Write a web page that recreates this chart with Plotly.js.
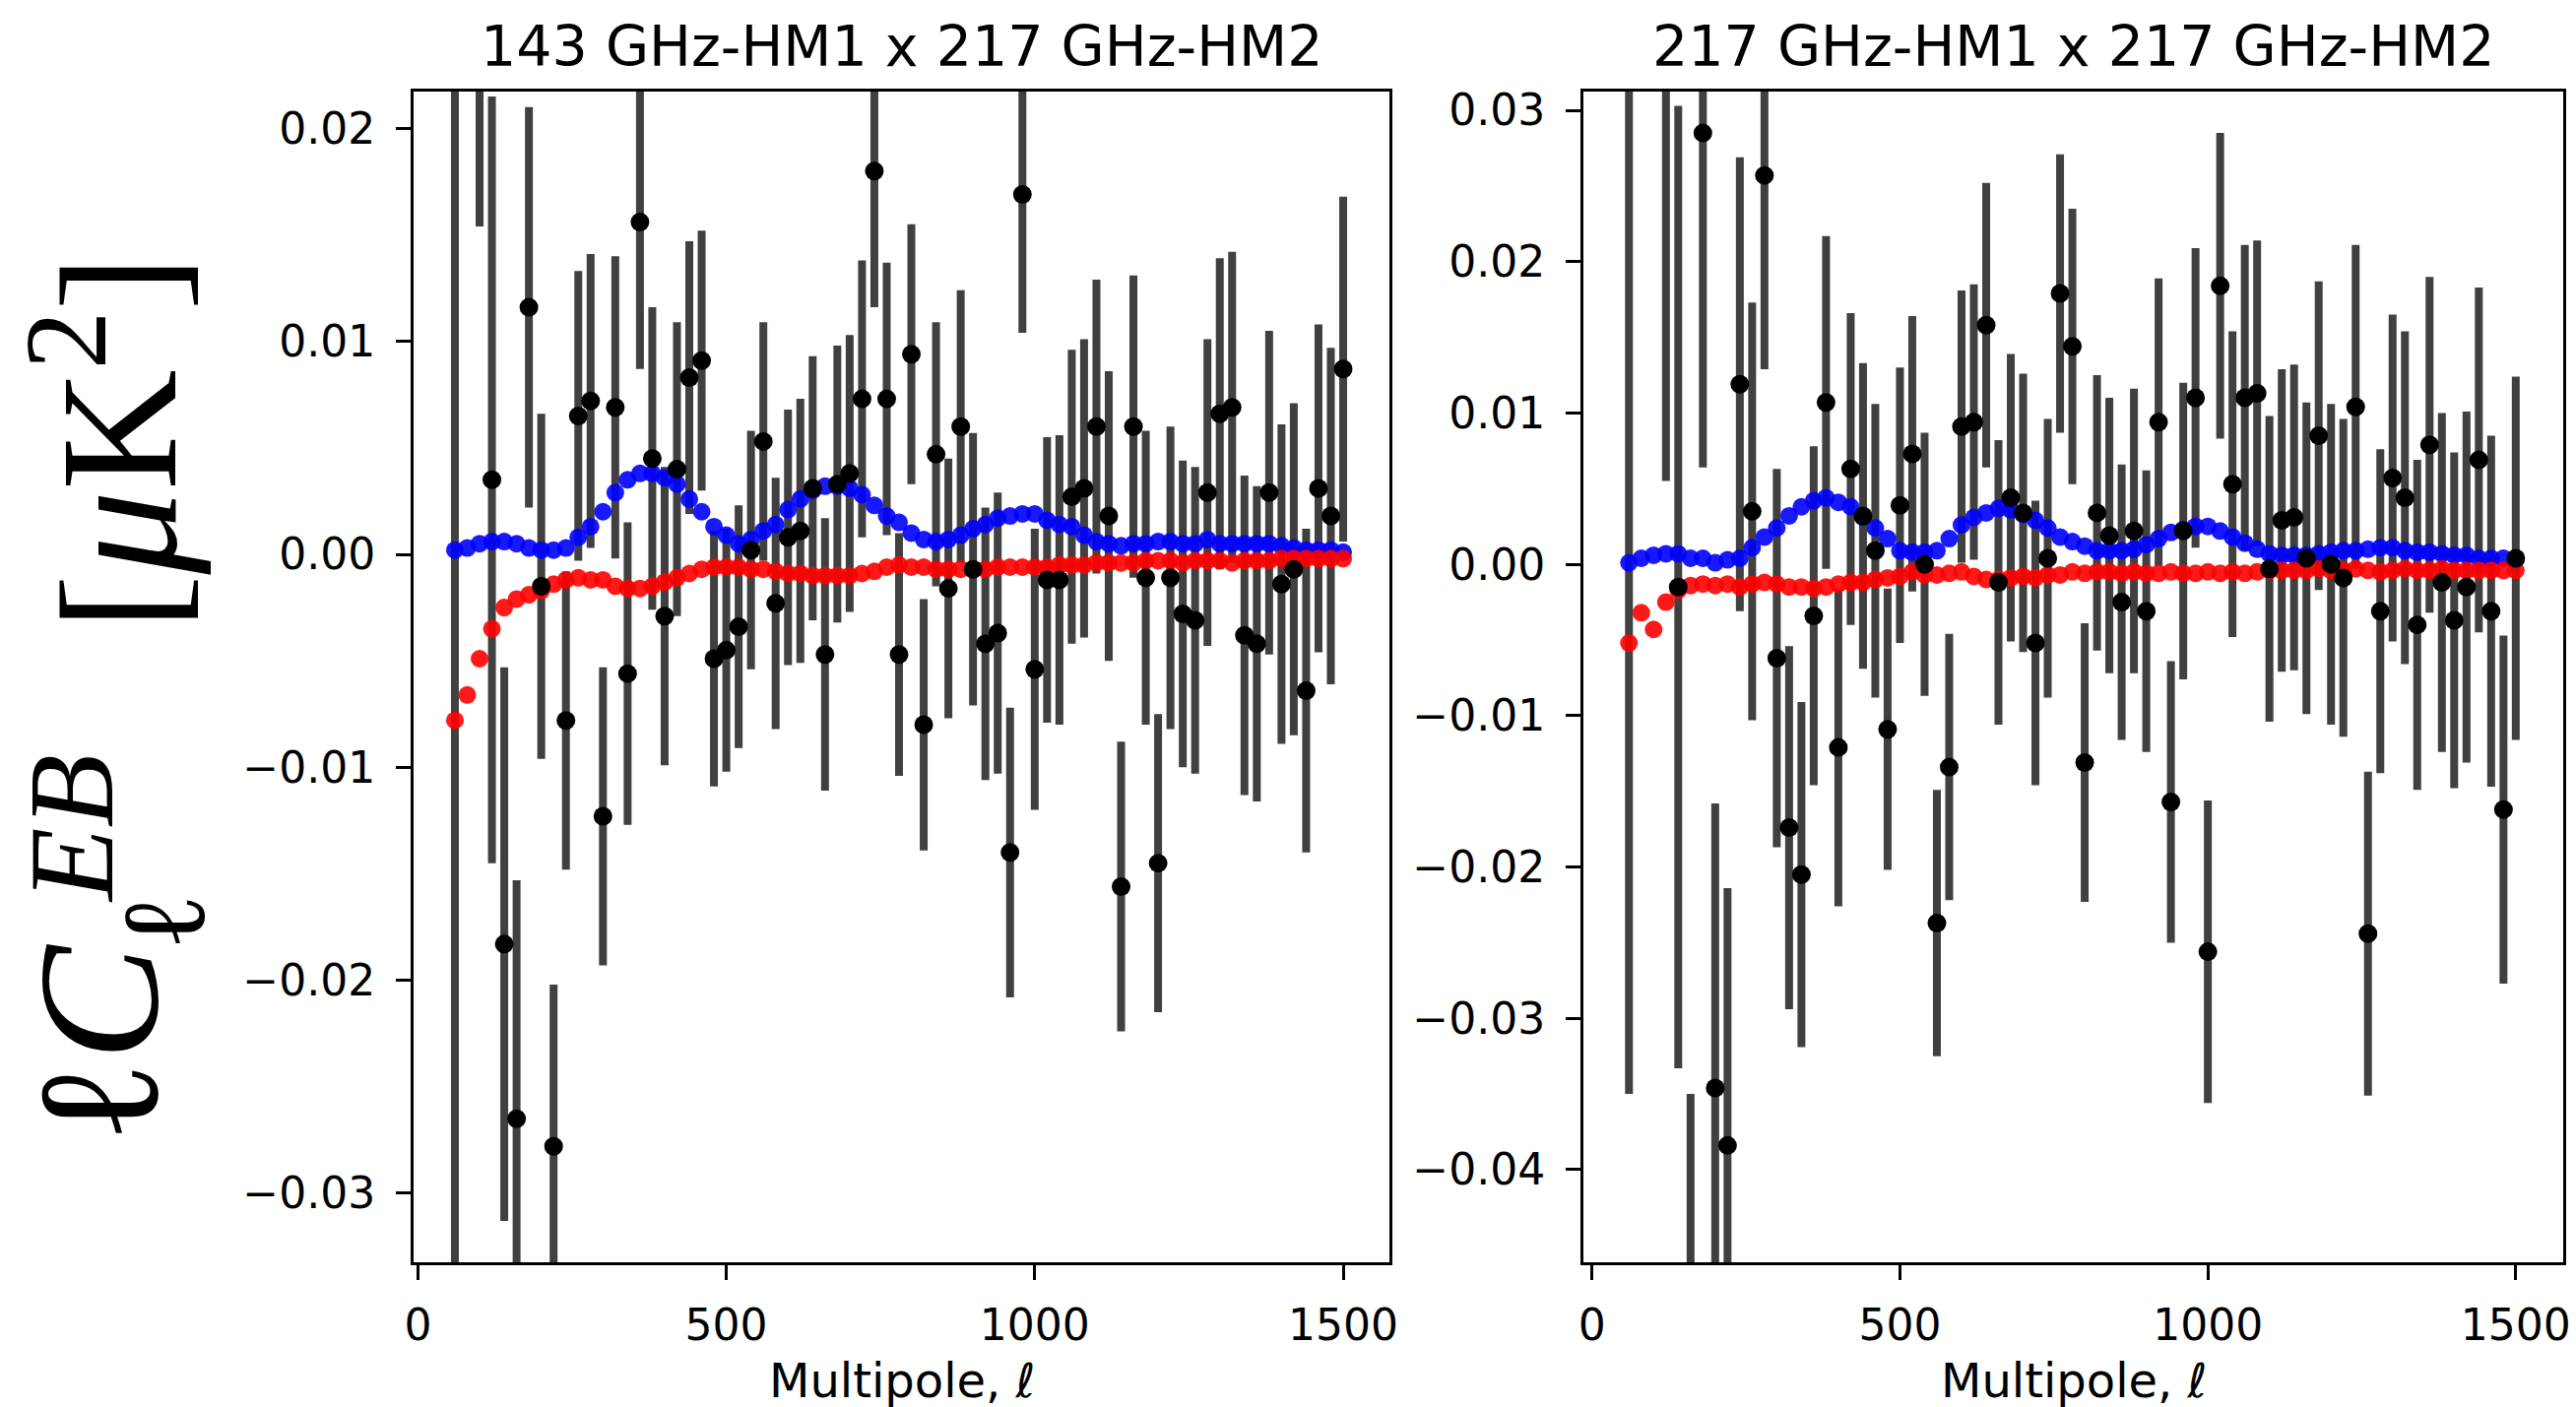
<!DOCTYPE html>
<html>
<head>
<meta charset="utf-8">
<script src="https://cdn.plot.ly/plotly-3.0.1.min.js"></script>
<style>html,body{margin:0;padding:0;background:#fff;}#chart{width:2616px;height:1429px;}</style>
</head>
<body>
<div id="chart"></div>
<script>
// multipole grid shared by the model curves
const ellGrid = [60,80,100,120,140,160,180,200,220,240,260,280,300,320,340,360,380,400,420,440,460,480,500,520,540,560,580,600,620,640,660,680,700,720,740,760,780,800,820,840,860,880,900,920,940,960,980,1000,1020,1040,1060,1080,1100,1120,1140,1160,1180,1200,1220,1240,1260,1280,1300,1320,1340,1360,1380,1400,1420,1440,1460,1480,1500];

// ---- left panel: 143 GHz-HM1 x 217 GHz-HM2 ----
const leftEll = [60,100,120,140,160,180,200,220,240,260,280,300,320,340,360,380,400,420,440,460,480,500,520,540,560,580,600,620,640,660,680,700,720,740,760,780,800,820,840,860,880,900,920,940,960,980,1000,1020,1040,1060,1080,1100,1120,1140,1160,1180,1200,1220,1240,1260,1280,1300,1320,1340,1360,1380,1400,1420,1440,1460,1480,1500];
const leftVal = [-0.036,0.032,0.0035,-0.0183,-0.0265,0.0116,-0.0015,-0.0278,-0.0078,0.0065,0.0072,-0.0123,0.0069,-0.0056,0.0156,0.0045,-0.0029,0.0040,0.0083,0.0091,-0.0049,-0.0045,-0.0034,0.0002,0.0053,-0.0023,0.0008,0.0011,0.0031,-0.0047,0.0033,0.0038,0.0073,0.0180,0.0073,-0.0047,0.0094,-0.0080,0.0047,-0.0016,0.0060,-0.0007,-0.0042,-0.0037,-0.0140,0.0169,-0.0054,-0.0012,-0.0012,0.0027,0.0031,0.0060,0.0018,-0.0156,0.0060,-0.0011,-0.0145,-0.0011,-0.0028,-0.0031,0.0029,0.0066,0.0069,-0.0038,-0.0042,0.0029,-0.0014,-0.0007,-0.0064,0.0031,0.0018,0.0087];
const leftErr = [0.060,0.0166,0.0180,0.0130,0.0112,0.0094,0.0081,0.0076,0.0070,0.0068,0.0069,0.0070,0.0071,0.0071,0.0069,0.0071,0.0070,0.0069,0.0064,0.0061,0.0060,0.0057,0.0057,0.0056,0.0056,0.0059,0.0060,0.0062,0.0062,0.0064,0.0065,0.0065,0.0065,0.0064,0.0064,0.0057,0.0061,0.0059,0.0062,0.0061,0.0064,0.0064,0.0064,0.0066,0.0068,0.0065,0.0066,0.0067,0.0068,0.0069,0.0070,0.0069,0.0068,0.0068,0.0071,0.0069,0.0070,0.0071,0.0072,0.0072,0.0072,0.0073,0.0073,0.0075,0.0074,0.0076,0.0075,0.0078,0.0076,0.0077,0.0079,0.0081];
const leftBlue = [0.0002,0.0003,0.0005,0.0006,0.0006,0.0005,0.0003,0.0002,0.0002,0.0003,0.0008,0.0013,0.0020,0.0029,0.0035,0.0038,0.0038,0.0036,0.0033,0.0026,0.0020,0.0013,0.0009,0.0005,0.0007,0.0011,0.0014,0.0021,0.0026,0.0030,0.0032,0.0032,0.0031,0.0028,0.0023,0.0018,0.0015,0.0010,0.0007,0.0006,0.0007,0.0009,0.0012,0.0014,0.0017,0.0018,0.0019,0.0019,0.0016,0.0014,0.0013,0.0009,0.0006,0.0005,0.0004,0.0005,0.0005,0.0006,0.0006,0.0005,0.0005,0.0007,0.0005,0.0005,0.0005,0.0005,0.0005,0.0004,0.0003,0.0002,0.0002,0.0002,0.0001];
const leftRed = [-0.0078,-0.0066,-0.0049,-0.0035,-0.0025,-0.0021,-0.0019,-0.0017,-0.0014,-0.0012,-0.0011,-0.0012,-0.0012,-0.0015,-0.0016,-0.0016,-0.0015,-0.0013,-0.0011,-0.0009,-0.0007,-0.0006,-0.0006,-0.0006,-0.0007,-0.0007,-0.0008,-0.0009,-0.0009,-0.0010,-0.0010,-0.0010,-0.0010,-0.0009,-0.0008,-0.0006,-0.0005,-0.0006,-0.0006,-0.0007,-0.0007,-0.0007,-0.0007,-0.0007,-0.0006,-0.0006,-0.0006,-0.0006,-0.0006,-0.0005,-0.0005,-0.0005,-0.0004,-0.0004,-0.0004,-0.0004,-0.0003,-0.0003,-0.0003,-0.0004,-0.0003,-0.0003,-0.0003,-0.0004,-0.0003,-0.0003,-0.0003,-0.0002,-0.0002,-0.0002,-0.0002,-0.0002,-0.0002];

// ---- right panel: 217 GHz-HM1 x 217 GHz-HM2 ----
const rightEll = [60,120,140,160,180,200,220,240,260,280,300,320,340,360,380,400,420,440,460,480,500,520,540,560,580,600,620,640,660,680,700,720,740,760,780,800,820,840,860,880,900,920,940,960,980,1000,1020,1040,1060,1080,1100,1120,1140,1160,1180,1200,1220,1240,1260,1280,1300,1320,1340,1360,1380,1400,1420,1440,1460,1480,1500];
const rightVal = [0.035,0.036,-0.0015,-0.055,0.0285,-0.0346,-0.0384,0.0119,0.0035,0.0257,-0.0062,-0.0174,-0.0205,-0.0034,0.0107,-0.0121,0.0063,0.0032,0.0009,-0.0109,0.0039,0.0073,0.0000,-0.0237,-0.0134,0.0091,0.0094,0.0158,-0.0012,0.0044,0.0034,-0.0052,0.0004,0.0179,0.0144,-0.0131,0.0034,0.0019,-0.0025,0.0022,-0.0031,0.0094,-0.0157,0.0022,0.0110,-0.0256,0.0184,0.0053,0.0110,0.0113,-0.0003,0.0029,0.0031,0.0004,0.0085,0.0000,-0.0009,0.0104,-0.0244,-0.0031,0.0057,0.0044,-0.0040,0.0079,-0.0012,-0.0037,-0.0015,0.0069,-0.0031,-0.0162,0.0004];
const rightErr = [0.070,0.0305,0.0318,0.020,0.0221,0.0188,0.0170,0.0150,0.0138,0.0128,0.0125,0.0120,0.0114,0.0112,0.0110,0.0105,0.0103,0.0101,0.0097,0.0093,0.0091,0.0091,0.0087,0.0088,0.0088,0.0090,0.0091,0.0094,0.0094,0.0095,0.0092,0.0094,0.0092,0.0092,0.0091,0.0092,0.0091,0.0091,0.0091,0.0094,0.0093,0.0095,0.0093,0.0098,0.0099,0.0100,0.0101,0.0101,0.0101,0.0101,0.0101,0.0100,0.0101,0.0103,0.0102,0.0106,0.0105,0.0107,0.0107,0.0107,0.0108,0.0110,0.0109,0.0111,0.0112,0.0111,0.0116,0.0114,0.0116,0.0115,0.0120];
const rightBlue = [0.0001,0.0004,0.0006,0.0007,0.0007,0.0004,0.0004,0.0001,0.0003,0.0004,0.0011,0.0018,0.0024,0.0032,0.0038,0.0042,0.0044,0.0041,0.0038,0.0031,0.0024,0.0017,0.0009,0.0008,0.0008,0.0009,0.0017,0.0026,0.0031,0.0034,0.0037,0.0036,0.0033,0.0029,0.0024,0.0018,0.0015,0.0012,0.0009,0.0009,0.0009,0.0010,0.0013,0.0017,0.0021,0.0023,0.0025,0.0025,0.0022,0.0018,0.0014,0.0010,0.0007,0.0006,0.0006,0.0006,0.0007,0.0008,0.0009,0.0009,0.0010,0.0011,0.0011,0.0009,0.0008,0.0008,0.0007,0.0006,0.0006,0.0004,0.0004,0.0004,0.0003];
const rightRed = [-0.0052,-0.0032,-0.0043,-0.0025,-0.0017,-0.0014,-0.0013,-0.0014,-0.0013,-0.0015,-0.0013,-0.0012,-0.0013,-0.0015,-0.0015,-0.0016,-0.0015,-0.0013,-0.0012,-0.0012,-0.0010,-0.0009,-0.0008,-0.0005,-0.0007,-0.0007,-0.0006,-0.0005,-0.0008,-0.0010,-0.0010,-0.0009,-0.0008,-0.0009,-0.0007,-0.0007,-0.0005,-0.0006,-0.0005,-0.0005,-0.0006,-0.0005,-0.0006,-0.0006,-0.0005,-0.0006,-0.0006,-0.0005,-0.0006,-0.0005,-0.0006,-0.0005,-0.0004,-0.0004,-0.0004,-0.0004,-0.0003,-0.0004,-0.0004,-0.0003,-0.0004,-0.0005,-0.0004,-0.0003,-0.0004,-0.0004,-0.0003,-0.0004,-0.0004,-0.0004,-0.0004,-0.0004,-0.0004];

const panelTitles = ["143 GHz-HM1 x 217 GHz-HM2", "217 GHz-HM1 x 217 GHz-HM2"];
const xTickVals = [0, 500, 1000, 1500];
const leftYTicks = [-0.03, -0.02, -0.01, 0.00, 0.01, 0.02];
const rightYTicks = [-0.04, -0.03, -0.02, -0.01, 0.00, 0.01, 0.02, 0.03];
const xLabel = "Multipole, ℓ";

const W = 2616, H = 1429;
const px = v => v / W;
const py = v => 1 - v / H;

function panelTraces(ell, val, err, blue, red, xa, ya) {
  return [
    { x: ell, y: val, xaxis: xa, yaxis: ya, type: 'scatter', mode: 'markers',
      marker: { size: 1, color: 'rgba(0,0,0,0)' },
      error_y: { type: 'data', array: err, visible: true, color: '#404040', thickness: 8, width: 0 },
      hoverinfo: 'skip', showlegend: false },
    { x: ellGrid, y: blue, xaxis: xa, yaxis: ya, type: 'scatter', mode: 'markers',
      marker: { size: 18, color: 'rgba(0,0,255,0.9)', line: { width: 0 } }, showlegend: false },
    { x: ellGrid, y: red, xaxis: xa, yaxis: ya, type: 'scatter', mode: 'markers',
      marker: { size: 18, color: 'rgba(255,0,0,0.9)', line: { width: 0 } }, showlegend: false },
    { x: ell, y: val, xaxis: xa, yaxis: ya, type: 'scatter', mode: 'markers',
      marker: { size: 19, color: '#000000', line: { width: 0 } }, showlegend: false }
  ];
}

const data = [].concat(
  panelTraces(leftEll, leftVal, leftErr, leftBlue, leftRed, 'x', 'y'),
  panelTraces(rightEll, rightVal, rightErr, rightBlue, rightRed, 'x2', 'y2')
);

const tickFont = { family: 'DejaVu Sans', size: 44, color: '#000' };
const axCommon = {
  showline: true, mirror: true, linecolor: '#000', linewidth: 3,
  ticks: 'outside', ticklen: 15, tickwidth: 3, tickcolor: '#000',
  showgrid: false, zeroline: false, tickfont: tickFont
};

const serif = 'Liberation Serif, DejaVu Serif, serif';
const layout = {
  width: W, height: H,
  margin: { l: 0, r: 0, t: 0, b: 0 },
  paper_bgcolor: '#fff', plot_bgcolor: '#fff',
  showlegend: false,
  xaxis: Object.assign({}, axCommon, { domain: [px(420), px(1411)], range: [-7, 1575], tickvals: xTickVals, anchor: 'y', ticklabelstandoff: 8 }),
  yaxis: Object.assign({}, axCommon, { domain: [1 - 1282 / H, 1 - 93 / H], range: [-0.03324, 0.02173], tickvals: leftYTicks, tickformat: '.2f', anchor: 'x', ticklabelstandoff: 12 }),
  xaxis2: Object.assign({}, axCommon, { domain: [px(1608), px(2603)], range: [-14, 1577], tickvals: xTickVals, anchor: 'y2', ticklabelstandoff: 8 }),
  yaxis2: Object.assign({}, axCommon, { domain: [1 - 1282 / H, 1 - 93 / H], range: [-0.04612, 0.03124], tickvals: rightYTicks, tickformat: '.2f', anchor: 'x2', ticklabelstandoff: 12 }),
  annotations: [
    { text: panelTitles[0], xref: 'paper', yref: 'paper', x: px(915.5), y: py(46.6), xanchor: 'center', yanchor: 'middle', showarrow: false, font: { family: 'DejaVu Sans', size: 57, color: '#000' } },
    { text: panelTitles[1], xref: 'paper', yref: 'paper', x: px(2105.5), y: py(46.6), xanchor: 'center', yanchor: 'middle', showarrow: false, font: { family: 'DejaVu Sans', size: 57, color: '#000' } },
    { text: xLabel, xref: 'paper', yref: 'paper', x: px(915.5), y: py(1402), xanchor: 'center', yanchor: 'middle', showarrow: false, font: { family: 'DejaVu Sans', size: 48, color: '#000' } },
    { text: xLabel, xref: 'paper', yref: 'paper', x: px(2105.5), y: py(1402), xanchor: 'center', yanchor: 'middle', showarrow: false, font: { family: 'DejaVu Sans', size: 48, color: '#000' } },
    // y-axis label  ℓ C_ℓ^{EB} [μK^2], built from pieces so sub/superscripts stack
    { text: 'ℓ<i>C</i>', xref: 'paper', yref: 'paper', x: px(100), y: py(1060), xanchor: 'center', yanchor: 'middle', textangle: -90, showarrow: false, font: { family: serif, size: 175, color: '#000' } },
    { text: '<i>EB</i>', xref: 'paper', yref: 'paper', x: px(72), y: py(842), xanchor: 'center', yanchor: 'middle', textangle: -90, showarrow: false, font: { family: serif, size: 122, color: '#000' } },
    { text: 'ℓ', xref: 'paper', yref: 'paper', x: px(166), y: py(937), xanchor: 'center', yanchor: 'middle', textangle: -90, showarrow: false, font: { family: serif, size: 120, color: '#000' } },
    { text: '[<i>μ</i>K<sup>2</sup>]', xref: 'paper', yref: 'paper', x: px(108), y: py(450), xanchor: 'center', yanchor: 'middle', textangle: -90, showarrow: false, font: { family: serif, size: 170, color: '#000' } }
  ]
};

Plotly.newPlot('chart', data, layout, { displayModeBar: false, staticPlot: true });
</script>
</body>
</html>
